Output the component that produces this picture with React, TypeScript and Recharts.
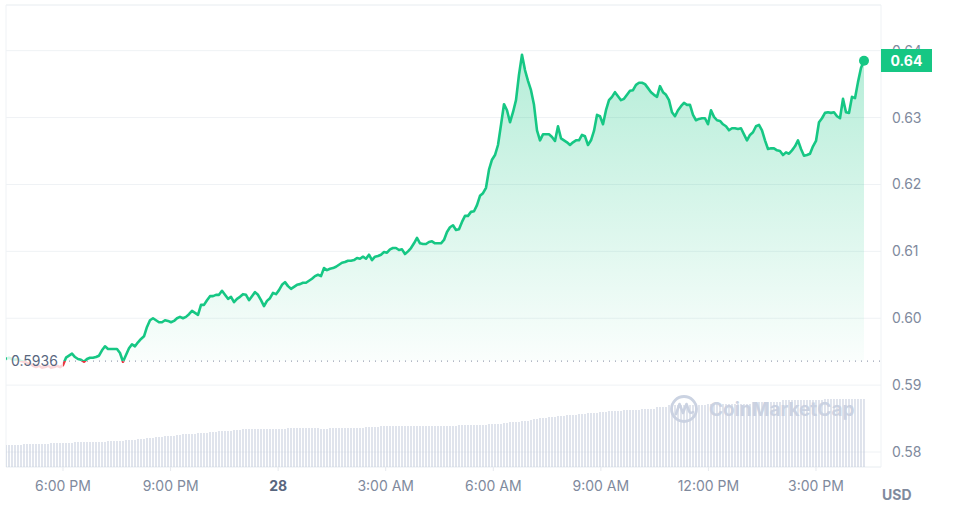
import React from "react";
import {
  ComposedChart,
  Area,
  Bar,
  XAxis,
  YAxis,
  CartesianGrid,
  ReferenceLine,
  ReferenceDot,
  ReferenceArea,
} from "recharts";

const FONT = "Inter, 'Noto Sans', sans-serif";
const GREEN = "#16c784";
const RED = "#ea3943";

// price 24h ago (dotted baseline)
const OPEN_PRICE = 0.5936;

// time ticks (index of 5-minute points) and their labels
const TICK_POS = [19, 54.86, 90.71, 126.57, 162.43, 198.29, 234.14, 270];
const TICK_LABELS = ["6:00 PM", "9:00 PM", "28", "3:00 AM", "6:00 AM", "9:00 AM", "12:00 PM", "3:00 PM"];
const PRICE_TICKS = [0.58, 0.59, 0.6, 0.61, 0.62, 0.63, 0.64];

// USD, one point every ~5 minutes
const prices = [
  0.5939, 0.5941, 0.5939, 0.5938, 0.5939, 0.5936, 0.5935, 0.5933, 0.5932, 0.5929,
  0.5927, 0.5929, 0.5926, 0.5927, 0.5929, 0.5926, 0.5927, 0.5929, 0.5927, 0.593,
  0.5941, 0.5944, 0.5947, 0.5942, 0.5939, 0.5938, 0.5935, 0.5939, 0.5941, 0.5941,
  0.5942, 0.5944, 0.5952, 0.5958, 0.5954, 0.5954, 0.5954, 0.5954, 0.5948, 0.5935,
  0.5945, 0.5955, 0.5961, 0.5958, 0.5964, 0.5969, 0.5973, 0.5987, 0.5997, 0.6,
  0.5997, 0.5994, 0.5994, 0.5997, 0.5996, 0.5994, 0.5996, 0.6, 0.6002, 0.6,
  0.6002, 0.6006, 0.6011, 0.6008, 0.6005, 0.602, 0.602, 0.6027, 0.6033, 0.6033,
  0.6035, 0.6035, 0.6041, 0.6035, 0.6029, 0.6032, 0.6024, 0.6029, 0.6032, 0.6036,
  0.6035, 0.6027, 0.6033, 0.6039, 0.6035, 0.6027, 0.6018, 0.6026, 0.603, 0.6038,
  0.6036, 0.6042, 0.605, 0.6054, 0.6048, 0.6044, 0.6047, 0.605, 0.6051, 0.6053,
  0.6053, 0.6056, 0.6059, 0.6063, 0.6065, 0.6063, 0.6075, 0.6072, 0.6074, 0.6075,
  0.6077, 0.608, 0.6083, 0.6084, 0.6086, 0.6086, 0.6087, 0.609, 0.6089, 0.6092,
  0.6089, 0.6095, 0.6087, 0.6092, 0.6093, 0.6095, 0.6099, 0.6098, 0.6103, 0.6105,
  0.6105, 0.6102, 0.6103, 0.6096, 0.61, 0.6105, 0.6112, 0.612, 0.6112, 0.6111,
  0.6111, 0.6114, 0.6115, 0.6112, 0.6112, 0.6112, 0.6117, 0.6129, 0.6136, 0.6139,
  0.6132, 0.6133, 0.6144, 0.6153, 0.6153, 0.6159, 0.616, 0.6169, 0.6183, 0.6187,
  0.6195, 0.6222, 0.6237, 0.6244, 0.6259, 0.6289, 0.632, 0.6311, 0.6293, 0.6308,
  0.6326, 0.6364, 0.6394, 0.6371, 0.6355, 0.6341, 0.6319, 0.6281, 0.6266, 0.6275,
  0.6275, 0.6275, 0.6271, 0.6265, 0.6287, 0.6269, 0.6266, 0.6263, 0.6259, 0.6263,
  0.6266, 0.6266, 0.6274, 0.6272, 0.6259, 0.6266, 0.628, 0.6304, 0.6302, 0.629,
  0.6311, 0.6326, 0.6331, 0.6338, 0.6332, 0.6326, 0.6328, 0.6334, 0.634, 0.6341,
  0.6349, 0.6352, 0.6352, 0.635, 0.6344, 0.6338, 0.6334, 0.6331, 0.6347, 0.6338,
  0.6334, 0.6326, 0.6308, 0.6302, 0.6311, 0.6317, 0.6322, 0.6319, 0.6319, 0.6304,
  0.6296, 0.6298, 0.6299, 0.6299, 0.629, 0.6311, 0.6301, 0.6296, 0.6295, 0.629,
  0.6287, 0.6281, 0.6284, 0.6284, 0.6283, 0.6284, 0.6275, 0.6266, 0.6274, 0.6278,
  0.6287, 0.6289, 0.6281, 0.6266, 0.6253, 0.6254, 0.6254, 0.6251, 0.625, 0.6244,
  0.6248, 0.6246, 0.6251, 0.6257, 0.6266, 0.6253, 0.6243, 0.6244, 0.6246, 0.6257,
  0.6265, 0.6293, 0.6299, 0.6307, 0.6308, 0.6307, 0.6308, 0.6302, 0.6299, 0.6328,
  0.6308, 0.6307, 0.6331, 0.6329, 0.6353, 0.6374, 0.6385,
];

// 24h volume, millions USD
const volumes = [
  33, 33, 33, 33, 33, 33, 34.5, 34.5, 34.5, 34.5,
  34.5, 34.5, 34.5, 34.5, 34.5, 36, 36, 36, 36, 36,
  36, 36, 36, 37.5, 37.5, 37.5, 37.5, 37.5, 37.5, 37.5,
  37.5, 37.5, 37.5, 37.5, 39, 39, 39, 39, 39, 39,
  40.5, 40.5, 40.5, 40.5, 42, 42, 42, 43.5, 43.5, 43.5,
  45, 45, 45, 46.5, 46.5, 46.5, 46.5, 48, 48, 49.5,
  49.5, 49.5, 49.5, 49.5, 51, 51, 51, 51, 52.5, 52.5,
  52.5, 54, 54, 54, 54, 54, 55.5, 55.5, 55.5, 57,
  57, 57, 57, 57, 57, 57, 57, 57, 57, 57,
  57, 57, 57, 57, 58.5, 58.5, 58.5, 58.5, 58.5, 58.5,
  58.5, 58.5, 58.5, 58.5, 58.5, 57, 57, 57, 58.5, 58.5,
  58.5, 58.5, 58.5, 58.5, 58.5, 58.5, 58.5, 58.5, 58.5, 58.5,
  60, 60, 60, 60, 60, 61.5, 61.5, 61.5, 61.5, 61.5,
  61.5, 61.5, 61.5, 61.5, 61.5, 61.5, 61.5, 61.5, 61.5, 61.5,
  61.5, 61.5, 61.5, 61.5, 61.5, 61.5, 61.5, 61.5, 61.5, 61.5,
  61.5, 63, 63, 63, 63, 63, 63, 63, 63, 63,
  63, 64.5, 64.5, 64.5, 64.5, 64.5, 66, 66, 67.5, 67.5,
  67.5, 67.5, 69, 69, 69, 70.5, 72, 72, 73.5, 73.5,
  73.5, 75, 75, 75, 76.5, 76.5, 76.5, 78, 78, 78,
  78, 79.5, 79.5, 79.5, 81, 81, 81, 81, 82.5, 82.5,
  82.5, 84, 84, 84, 84, 84, 85.5, 85.5, 85.5, 85.5,
  85.5, 85.5, 87, 87, 87, 87, 87, 90, 90, 90,
  90, 93, 93, 93, 93, 93, 93, 93, 93, 93,
  93, 93, 93, 93, 94.5, 94.5, 94.5, 94.5, 94.5, 94.5,
  94.5, 94.5, 94.5, 94.5, 94.5, 94.5, 94.5, 94.5, 94.5, 97.5,
  97.5, 97.5, 97.5, 97.5, 97.5, 97.5, 97.5, 97.5, 97.5, 100.5,
  100.5, 100.5, 100.5, 100.5, 100.5, 100.5, 100.5, 100.5, 100.5, 100.5,
  100.5, 100.5, 100.5, 102, 102, 102, 102, 102, 102, 102,
  102, 102, 102, 102, 102, 102, 102,
];

const data = prices.map((p, i) => ({ i, price: p, vol: volumes[i] }));

// chart geometry
const W = 953;
const H = 512;
const PLOT_TOP = 5;
const PLOT_BOTTOM = 467;
const PLOT_LEFT = 6;
const PLOT_RIGHT = 881;
const X_MAX = 291.67;
const Y_MIN = 0.57776;
const Y_MAX = 0.64683;
const VOL_MAX = 693;

const yPix = (p: number) => PLOT_TOP + ((Y_MAX - p) / (Y_MAX - Y_MIN)) * (PLOT_BOTTOM - PLOT_TOP);
const baseY = yPix(OPEN_PRICE);
const baseOffset = (baseY - PLOT_TOP) / (PLOT_BOTTOM - PLOT_TOP);
const lastPrice = prices[prices.length - 1];

function TimeTick({ x, y, index }: any) {
  const label = TICK_LABELS[index] ?? "";
  const bold = label === "28";
  return (
    <text
      x={x}
      y={y + 18}
      textAnchor="middle"
      fontSize={14}
      fontFamily={FONT}
      fontWeight={bold ? 700 : 400}
      fill={bold ? "#58667e" : "#808a9d"}
    >
      {label}
    </text>
  );
}

function PriceTick({ x, y, payload }: any) {
  return (
    <text x={x + 11} y={y + 5} textAnchor="start" fontSize={14} fontFamily={FONT} fill="#808a9d">
      {Number(payload.value).toFixed(2)}
    </text>
  );
}

export default function App() {
  return (
    <div style={{ position: "absolute", left: 0, top: 0, width: W, height: H, background: "#fff", fontFamily: FONT }}>
      <ComposedChart width={W} height={H} data={data} margin={{ top: PLOT_TOP, right: 0, bottom: 0, left: PLOT_LEFT }}>
        <defs>
          <linearGradient id="cmcStroke" gradientUnits="userSpaceOnUse" x1="0" y1={PLOT_TOP} x2="0" y2={PLOT_BOTTOM}>
            <stop offset={baseOffset} stopColor={GREEN} />
            <stop offset={baseOffset} stopColor={RED} />
          </linearGradient>
          <linearGradient id="cmcFill" gradientUnits="userSpaceOnUse" x1="0" y1={50} x2="0" y2={baseY}>
            <stop offset="0" stopColor={GREEN} stopOpacity={0.32} />
            <stop offset="1" stopColor={GREEN} stopOpacity={0.02} />
          </linearGradient>
        </defs>
        <CartesianGrid yAxisId="price" vertical={false} stroke="#eff2f5" />
        <XAxis
          dataKey="i"
          type="number"
          domain={[0, X_MAX]}
          ticks={TICK_POS}
          interval={0}
          allowDataOverflow
          axisLine={false}
          tickLine={{ stroke: "#e6e9ee" }}
          tickSize={4}
          height={H - PLOT_BOTTOM}
          tick={<TimeTick />}
        />
        <YAxis
          yAxisId="price"
          orientation="right"
          type="number"
          domain={[Y_MIN, Y_MAX]}
          ticks={PRICE_TICKS}
          allowDataOverflow
          axisLine={false}
          tickLine={false}
          tickSize={0}
          tickMargin={0}
          width={W - PLOT_RIGHT}
          tick={<PriceTick />}
        />
        <YAxis yAxisId="vol" hide domain={[0, VOL_MAX]} />
        <ReferenceArea
          yAxisId="price"
          x1={0}
          x2={X_MAX}
          y1={Y_MIN}
          y2={Y_MAX}
          fill="none"
          stroke="#eff2f5"
          strokeWidth={1}
        />
        <Bar yAxisId="vol" dataKey="vol" fill="#c1c9da" barSize={1} isAnimationActive={false} />
        <ReferenceLine
          yAxisId="price"
          segment={[
            { x: TICK_POS[0], y: OPEN_PRICE },
            { x: X_MAX, y: OPEN_PRICE },
          ]}
          stroke="#9aa1b3"
          strokeWidth={1.2}
          strokeDasharray="1 5"
        />
        <Area
          yAxisId="price"
          type="linear"
          dataKey="price"
          baseValue={OPEN_PRICE}
          stroke="url(#cmcStroke)"
          strokeWidth={2.6}
          strokeLinejoin="round"
          fill="url(#cmcFill)"
          fillOpacity={1}
          dot={false}
          activeDot={false}
          isAnimationActive={false}
        />
        <ReferenceDot yAxisId="price" x={prices.length - 1} y={lastPrice} r={5} fill={GREEN} stroke="none" />
      </ComposedChart>

      {/* opening price label, fades the pre-window segment */}
      <div
        style={{
          position: "absolute",
          left: PLOT_LEFT + 1,
          top: baseY - 11,
          width: 56,
          height: 22,
          background: "rgba(255,255,255,0.8)",
          color: "#58667e",
          fontSize: 14,
          lineHeight: "22px",
          paddingLeft: 4,
          boxSizing: "border-box",
        }}
      >
        {OPEN_PRICE.toFixed(4)}
      </div>

      {/* current price badge */}
      <div
        style={{
          position: "absolute",
          left: PLOT_RIGHT,
          top: yPix(lastPrice) - 11.5,
          width: 51,
          height: 23,
          background: GREEN,
          color: "#fff",
          fontSize: 14,
          fontWeight: 700,
          lineHeight: "23px",
          textAlign: "center",
        }}
      >
        {lastPrice.toFixed(2)}
      </div>

      <div
        style={{
          position: "absolute",
          left: 882,
          top: 486,
          color: "#808a9d",
          fontSize: 14,
          fontWeight: 700,
        }}
      >
        USD
      </div>

      {/* watermark */}
      <svg width={W} height={H} style={{ position: "absolute", left: 0, top: 0, pointerEvents: "none" }}>
        <g opacity={0.95}>
          <circle cx={684} cy={409} r={12.5} fill="none" stroke="#c9d1e1" strokeWidth={2.8} />
          <path
            d="M676 414 L679.5 404 L683 413 L686.5 404 L689 411 Q690 414 693 412"
            fill="none"
            stroke="#c9d1e1"
            strokeWidth={2.6}
            strokeLinejoin="round"
            strokeLinecap="round"
          />
          <text x={709} y={416} fontSize={19} fontWeight={700} fontFamily={FONT} fill="#c9d1e1">
            CoinMarketCap
          </text>
        </g>
      </svg>
    </div>
  );
}
